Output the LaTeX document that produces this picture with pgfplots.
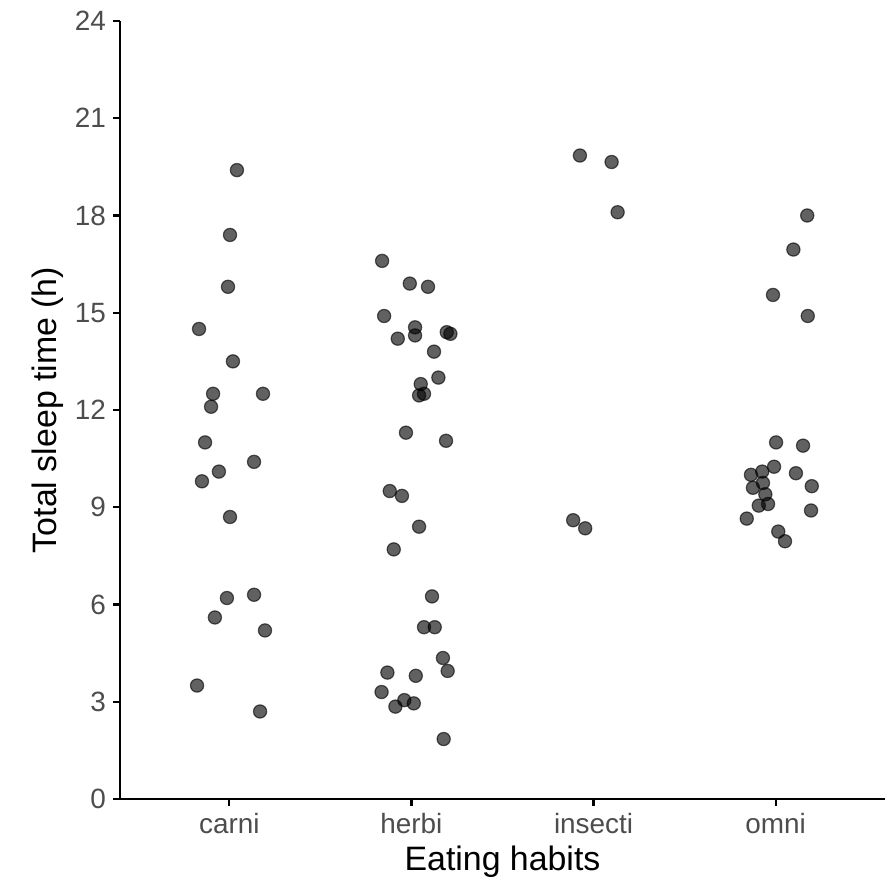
\documentclass[border=0pt]{standalone}
\usepackage{pgfplots}
\usepackage{pgfplotstable}
\pgfplotsset{compat=1.18}
\usepackage{fontspec}
\setmainfont{Liberation Sans}
\definecolor{ticktext}{HTML}{4D4D4D}

\pgfplotstableread{
x y
1.042 19.4
1.004 17.4
0.993 15.8
0.834 14.5
1.020 13.5
0.911 12.5
1.185 12.5
0.900 12.1
0.867 11.0
1.136 10.4
0.943 10.1
0.850 9.8
1.004 8.7
1.136 6.3
0.987 6.2
0.921 5.6
1.196 5.2
0.823 3.5
1.169 2.7
}\carni

\pgfplotstableread{
x y
1.839 16.6
1.991 15.9
2.091 15.8
1.850 14.9
2.020 14.55
2.020 14.3
1.925 14.2
2.194 14.4
2.214 14.35
2.124 13.8
2.148 13.0
2.051 12.8
2.042 12.45
2.069 12.5
1.970 11.3
2.190 11.05
1.881 9.5
1.948 9.35
2.042 8.4
1.903 7.7
2.113 6.25
2.069 5.3
2.128 5.3
2.173 4.35
1.868 3.9
2.199 3.95
2.024 3.8
1.836 3.3
1.961 3.05
2.013 2.95
1.912 2.85
2.177 1.85
}\herbi

\pgfplotstableread{
x y
2.925 19.85
3.099 19.65
3.132 18.1
2.888 8.6
2.954 8.35
}\insecti

\pgfplotstableread{
x y
4.173 18.0
4.097 16.95
3.985 15.55
4.176 14.9
4.002 11.0
4.150 10.9
3.991 10.25
3.864 10.0
3.926 10.1
4.111 10.05
4.198 9.65
3.875 9.6
3.930 9.75
3.943 9.4
3.907 9.05
3.958 9.1
3.841 8.65
4.194 8.9
4.014 8.25
4.051 7.95
}\omni

\pgfplotsset{pts/.style={only marks, mark=*, mark size=3.3bp,
  mark options={fill=black, draw=black, fill opacity=0.62, draw opacity=0.62, line width=0.6bp}}}

\begin{document}
\begin{tikzpicture}
\begin{axis}[
  at={(60bp,43bp)}, anchor=south west,
  scale only axis,
  width=382.5bp, height=389bp,
  xmin=0.4, xmax=4.6, ymin=0, ymax=24,
  axis x line*=bottom, axis y line*=left,
  axis line style={-, line width=1.2bp, black},
  xtick={1,2,3,4},
  xticklabels={carni,herbi,insecti,omni},
  ytick={0,3,...,24},
  tick align=outside,
  major tick length=3.5bp,
  tick style={line width=1.2bp, black},
  /pgf/number format/assume math mode=true,
  ticklabel style={font=\fontsize{14}{16}\selectfont, text=ticktext},
  xlabel={Eating habits},
  ylabel={Total sleep time (h)},
  label style={font=\fontsize{17}{20}\selectfont, text=black},
  xlabel style={at={(axis description cs:0.5,-0.0913)}, anchor=base},
  ylabel style={at={(axis description cs:-0.0941,0.5)}, anchor=center},
  clip=false,
]
\addplot[pts] table {\carni};
\addplot[pts] table {\herbi};
\addplot[pts] table {\insecti};
\addplot[pts] table {\omni};
\end{axis}
\pgfresetboundingbox
\useasboundingbox (0,0) rectangle (443bp,442.5bp);
\end{tikzpicture}
\end{document}
